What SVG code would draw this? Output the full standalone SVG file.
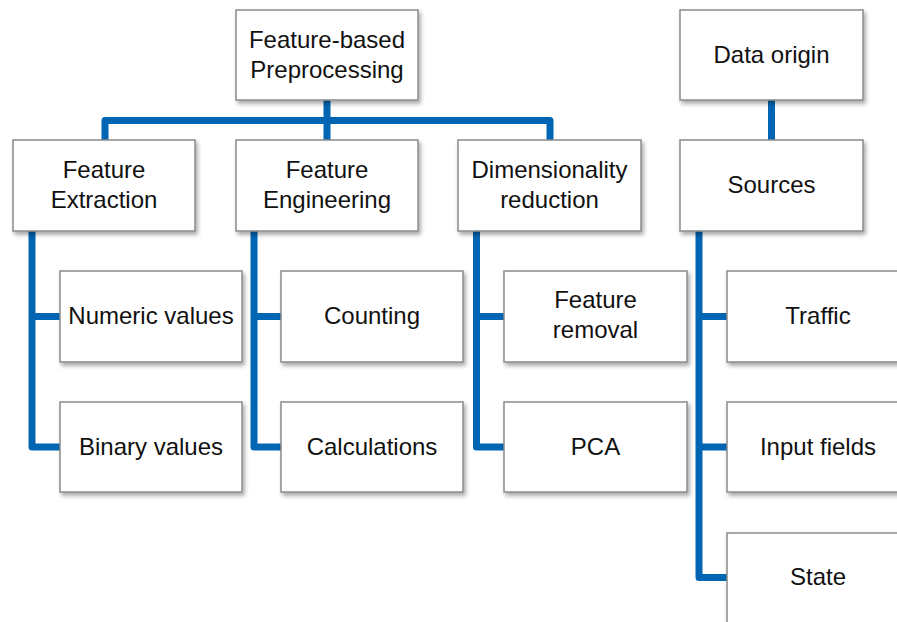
<svg xmlns="http://www.w3.org/2000/svg" width="897" height="622" viewBox="0 0 897 622">
<defs>
<filter id="sh" x="-10%" y="-10%" width="130%" height="140%">
<feDropShadow dx="2" dy="3" stdDeviation="2" flood-color="#000" flood-opacity="0.35"/>
</filter>
<style>
.box{fill:#fff;stroke:#8a8a8a;stroke-width:1.5;filter:url(#sh)}
.lbl{font-family:"Liberation Sans",Arial,sans-serif;font-size:24px;fill:#111;text-anchor:middle}
.con{fill:none;stroke:#0065b3;stroke-width:7;stroke-linejoin:round;stroke-linecap:butt}
</style>
</defs>
<rect width="897" height="622" fill="#fff"/>
<g id="connectors">
<path class="con" d="M327 100 V140"/>
<path class="con" d="M105 140 V120.5 H550 V140"/>
<path class="con" d="M771.5 100 V140"/>
<path class="con" d="M32 231 V447 H60 M32 316.5 H60"/>
<path class="con" d="M254 231 V447 H281 M254 316.5 H281"/>
<path class="con" d="M476.5 231 V447 H504 M476.5 316.5 H504"/>
<path class="con" d="M699 231 V577.5 H727 M699 316.5 H727 M699 447 H727"/>
</g>
<g id="n-fbp"><rect class="box" x="236" y="10" width="182" height="90"/><text class="lbl" x="327" y="48">Feature-based</text><text class="lbl" x="327" y="78">Preprocessing</text></g>
<g id="n-origin"><rect class="box" x="680" y="10" width="183" height="90"/><text class="lbl" x="771.5" y="63">Data origin</text></g>
<g id="n-fe"><rect class="box" x="13" y="140" width="182" height="91"/><text class="lbl" x="104" y="178">Feature</text><text class="lbl" x="104" y="208">Extraction</text></g>
<g id="n-feng"><rect class="box" x="236" y="140" width="182" height="91"/><text class="lbl" x="327" y="178">Feature</text><text class="lbl" x="327" y="208">Engineering</text></g>
<g id="n-dr"><rect class="box" x="458" y="140" width="183" height="91"/><text class="lbl" x="549.5" y="178">Dimensionality</text><text class="lbl" x="549.5" y="208">reduction</text></g>
<g id="n-sources"><rect class="box" x="680" y="140" width="183" height="91"/><text class="lbl" x="771.5" y="193">Sources</text></g>
<g id="n-numeric"><rect class="box" x="60" y="271" width="182" height="91"/><text class="lbl" x="151" y="324">Numeric values</text></g>
<g id="n-binary"><rect class="box" x="60" y="402" width="182" height="90"/><text class="lbl" x="151" y="455">Binary values</text></g>
<g id="n-counting"><rect class="box" x="281" y="271" width="182" height="91"/><text class="lbl" x="372" y="324">Counting</text></g>
<g id="n-calc"><rect class="box" x="281" y="402" width="182" height="90"/><text class="lbl" x="372" y="455">Calculations</text></g>
<g id="n-removal"><rect class="box" x="504" y="271" width="183" height="91"/><text class="lbl" x="595.5" y="308">Feature</text><text class="lbl" x="595.5" y="338">removal</text></g>
<g id="n-pca"><rect class="box" x="504" y="402" width="183" height="90"/><text class="lbl" x="595.5" y="455">PCA</text></g>
<g id="n-traffic"><rect class="box" x="727" y="271" width="183" height="91"/><text class="lbl" x="818" y="324">Traffic</text></g>
<g id="n-input"><rect class="box" x="727" y="402" width="183" height="90"/><text class="lbl" x="818" y="455">Input fields</text></g>
<g id="n-state"><rect class="box" x="727" y="533" width="183" height="91"/><text class="lbl" x="818" y="585">State</text></g>
</svg>
